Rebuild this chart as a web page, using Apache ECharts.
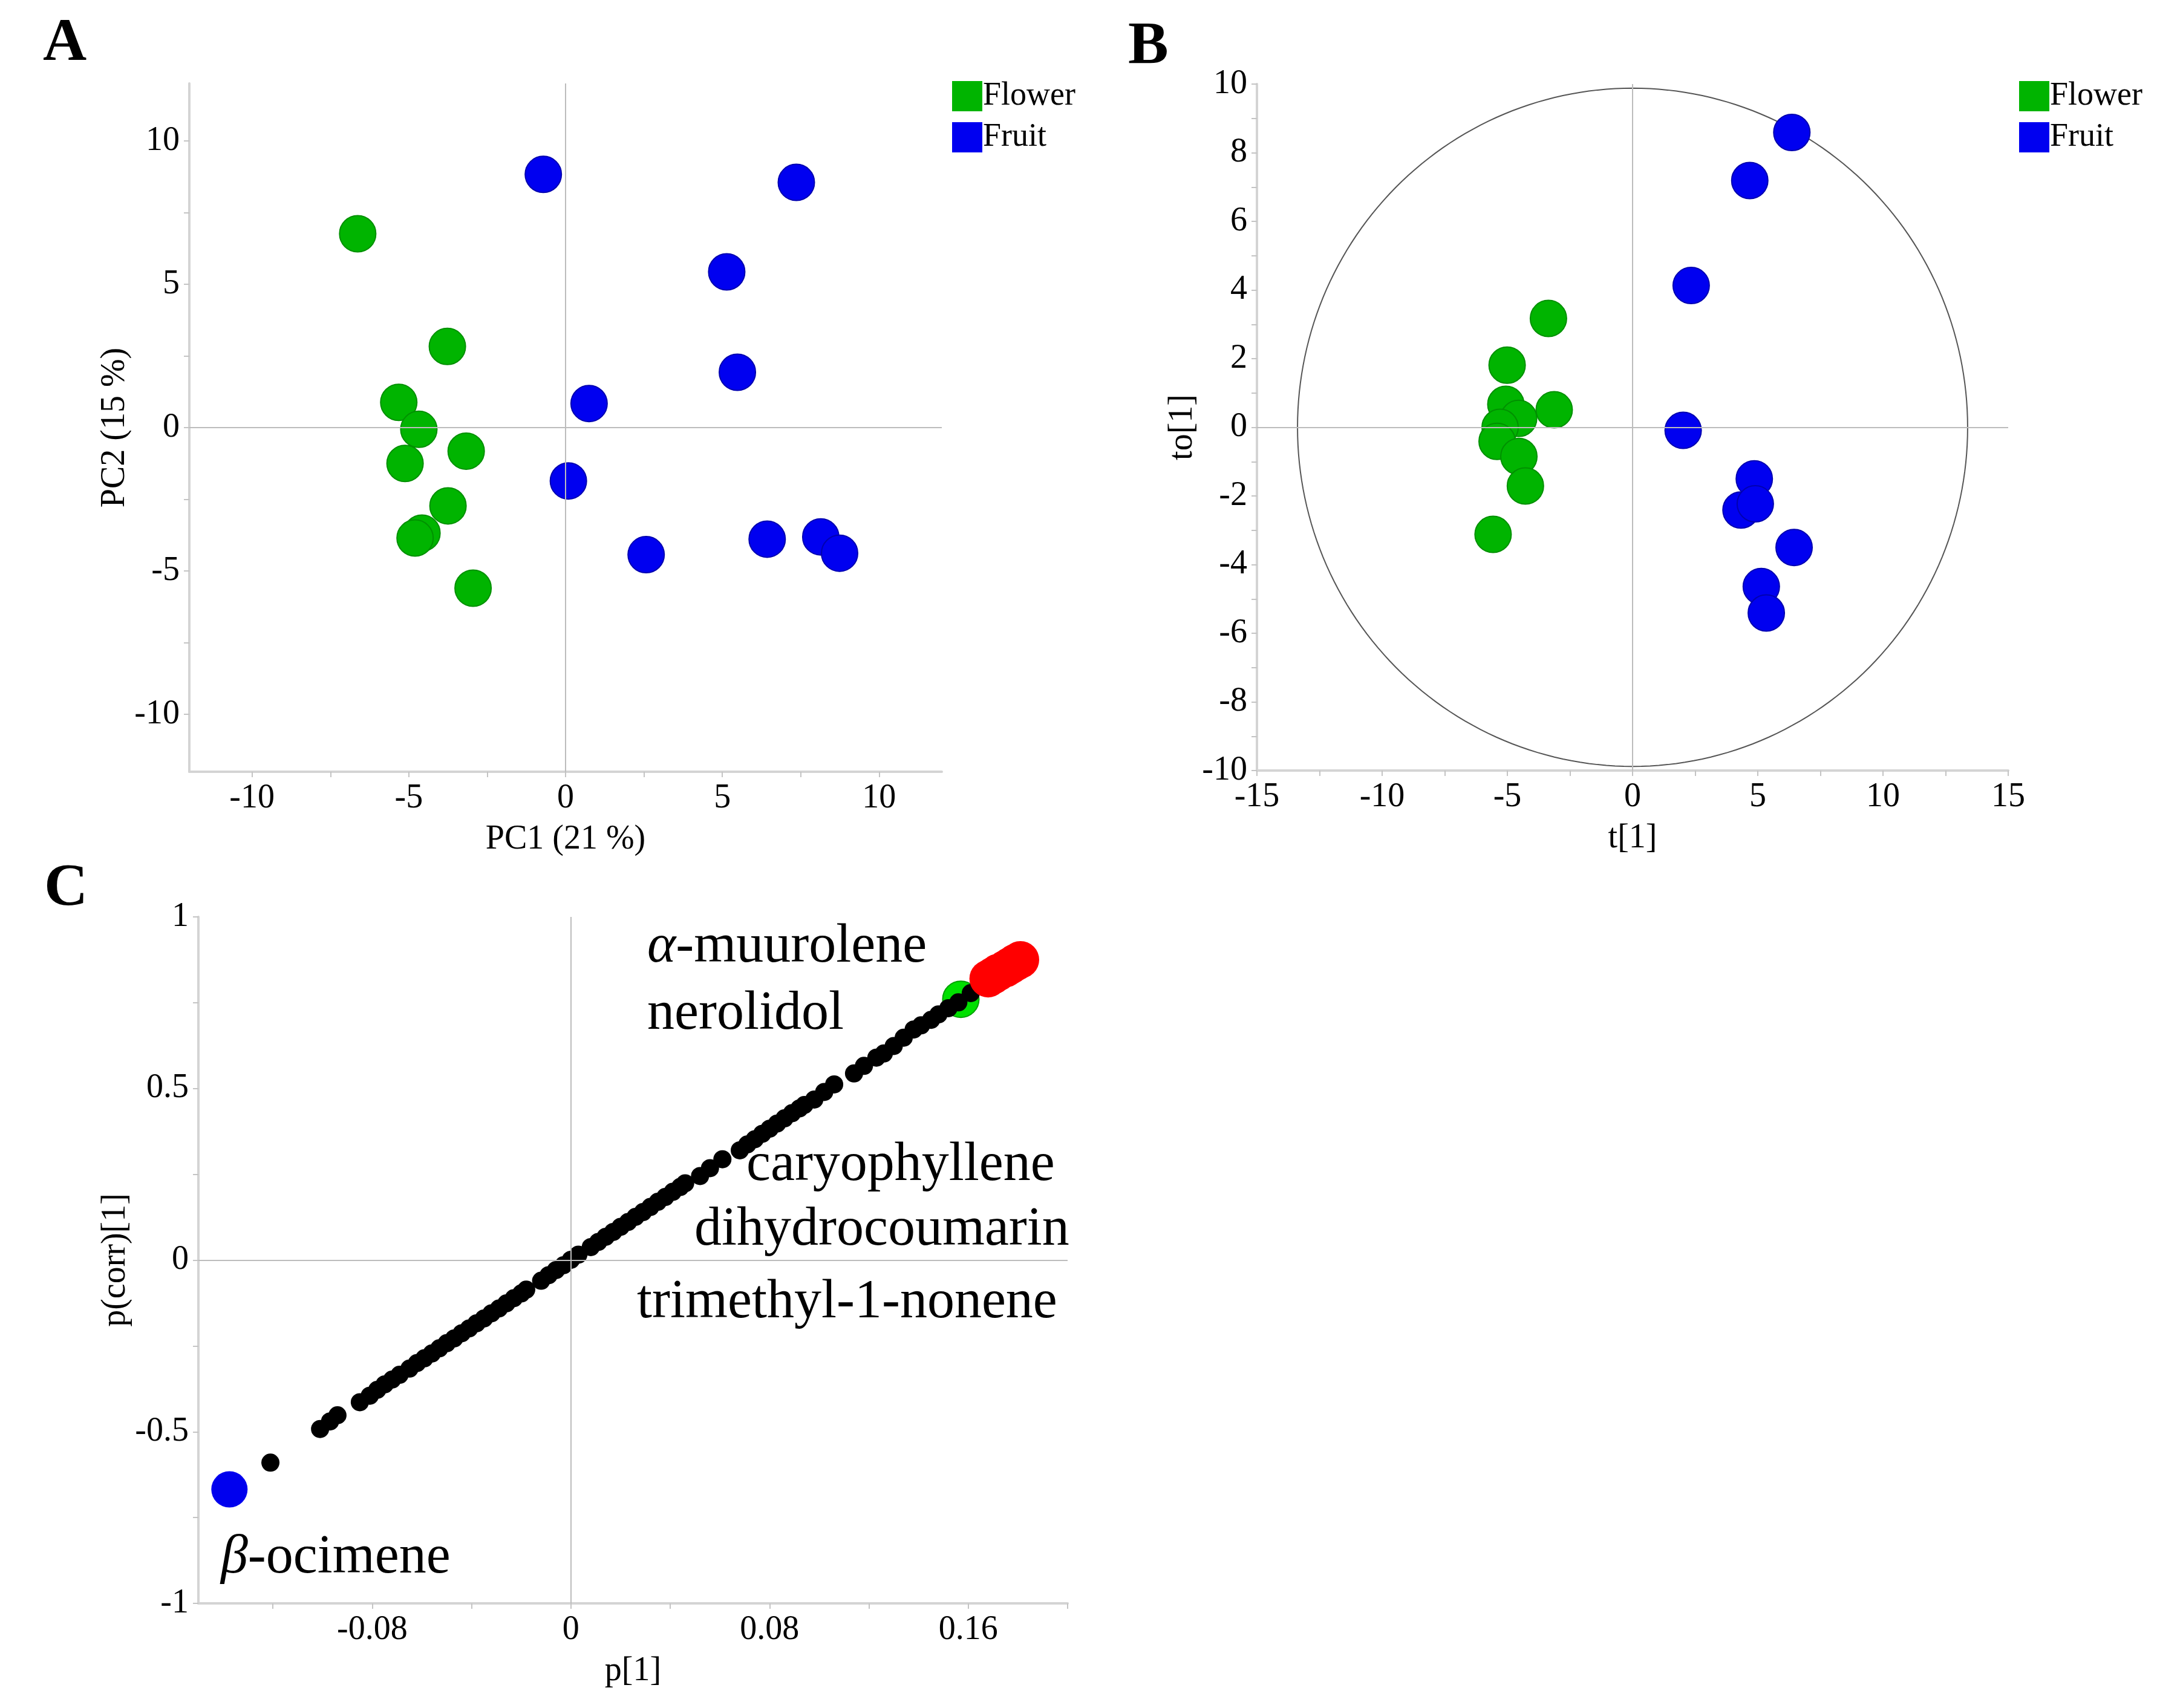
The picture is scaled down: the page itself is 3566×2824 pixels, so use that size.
<!DOCTYPE html>
<html>
<head>
<meta charset="utf-8">
<script src="https://cdn.jsdelivr.net/npm/echarts@6/dist/echarts.min.js"></script>
<style>
	html, body { margin: 0; padding: 0; background: #fff; }
	#main { width: 3566px; height: 2824px; }
</style>
</head>
<body>
<div id="main"></div>
<script>
// A: PCA scores
var flowerA = [[-6.63,6.76],[-3.77,2.83],[-5.32,0.88],[-4.68,-0.06],[-3.17,-0.82],[-5.12,-1.25],[-3.75,-2.73],[-4.58,-3.68],[-4.80,-3.85],[-2.95,-5.60]];
var fruitA = [[-0.71,8.83],[7.36,8.55],[5.14,5.43],[5.48,1.93],[0.75,0.84],[0.09,-1.86],[2.57,-4.43],[6.43,-3.89],[8.14,-3.81],[8.74,-4.38]];

// B: OPLS-DA scores + ellipse semi axes
var flowerB = [[-3.36,3.17],[-5.01,1.81],[-3.13,0.51],[-5.06,0.67],[-4.55,0.26],[-5.29,0.00],[-5.41,-0.41],[-4.54,-0.85],[-4.28,-1.71],[-5.57,-3.12]];
var fruitB = [[6.36,8.59],[4.68,7.19],[2.34,4.13],[2.02,-0.09],[4.86,-1.50],[4.33,-2.41],[4.90,-2.23],[6.45,-3.50],[5.14,-4.64],[5.34,-5.41]];
var ellipseB = [13.38, 9.88];

// C: S-plot
var blackC = [
	[-0.121,-0.590],
	[-0.101,-0.492],[-0.097,-0.470],[-0.094,-0.452],
	[-0.085,-0.414],[-0.081,-0.395],[-0.078,-0.378],[-0.075,-0.362],[-0.072,-0.348],[-0.069,-0.334],
	[-0.065,-0.316],[-0.062,-0.300],[-0.059,-0.286],[-0.056,-0.272],[-0.053,-0.257],[-0.050,-0.242],
	[-0.047,-0.228],[-0.044,-0.213],[-0.041,-0.199],[-0.038,-0.184],[-0.035,-0.170],[-0.032,-0.155],
	[-0.029,-0.141],[-0.026,-0.126],[-0.023,-0.111],[-0.020,-0.097],[-0.018,-0.086],
	[-0.012,-0.060],[-0.009,-0.044],[-0.006,-0.029],[-0.003,-0.015],[0.000,0.001],[0.003,0.016],
	[0.008,0.038],[0.011,0.053],[0.014,0.068],[0.017,0.082],[0.020,0.097],[0.023,0.111],[0.026,0.126],
	[0.029,0.140],[0.032,0.155],[0.035,0.170],[0.038,0.184],[0.041,0.199],[0.044,0.213],[0.046,0.224],
	[0.052,0.245],[0.056,0.268],[0.061,0.294],
	[0.068,0.320],[0.071,0.337],[0.074,0.352],[0.077,0.368],[0.080,0.383],[0.083,0.398],[0.086,0.413],
	[0.089,0.428],[0.092,0.442],[0.094,0.452],
	[0.098,0.468],[0.102,0.490],[0.106,0.512],
	[0.114,0.544],[0.118,0.566],[0.123,0.590],
	[0.126,0.602],[0.130,0.624],[0.134,0.648],[0.138,0.672],[0.141,0.684],
	[0.145,0.700],[0.148,0.716],[0.152,0.734],[0.156,0.751],[0.161,0.778]
];
var greenC = [[0.157,0.760]];
var redC = [[0.168,0.820],[0.170,0.829],[0.172,0.838],[0.175,0.849],[0.177,0.858],[0.179,0.867],[0.181,0.875]];
var blueC = [[-0.1375,-0.668]];

// ticks and labels
var ticksA = [-10,-7.5,-5,-2.5,0,2.5,5,7.5,10];
var labelsA = [-10,-5,0,5,10];
var ticksBx = [-15,-12.5,-10,-7.5,-5,-2.5,0,2.5,5,7.5,10,12.5,15];
var labelsBx = [-15,-10,-5,0,5,10,15];
var ticksBy = [-10,-9,-8,-7,-6,-5,-4,-3,-2,-1,0,1,2,3,4,5,6,7,8,9,10];
var labelsBy = [-10,-8,-6,-4,-2,0,2,4,6,8,10];
var ticksCx = [-0.12,-0.08,-0.04,0,0.04,0.08,0.12,0.16,0.2];
var labelsCx = [-0.08,0,0.08,0.16];
var ticksCy = [-1,-0.75,-0.5,-0.25,0,0.25,0.5,0.75,1];
var labelsCy = [-1,-0.5,0,0.5,1];

var FONT = '"Liberation Serif", serif';
var GREEN = '#00b400', GREEN_B = '#009000';
var BLUE = '#0000f0', BLUE_B = '#0000b0';

function axis(grid, min, max, labels, ticks, name, gap){
	return {
		type: 'value',
		gridIndex: grid,
		min: min,
		max: max,
		name: name,
		nameLocation: 'middle',
		nameGap: gap,
		nameTextStyle: {fontFamily: FONT, fontSize: 56, color: '#000'},
		axisLine: {show: true, onZero: false, lineStyle: {color: '#d4d4d4', width: 4}},
		axisTick: {show: true, length: 9, customValues: ticks, lineStyle: {color: '#c4c4c4', width: 2}},
		axisLabel: {customValues: labels, fontFamily: FONT, fontSize: 56, color: '#000', margin: 16},
		splitLine: {show: false}
	};
}

function zeroLines(xi, yi){
	return {
		type: 'scatter', xAxisIndex: xi, yAxisIndex: yi, data: [], z: 1, silent: true,
		markLine: {
			silent: true, symbol: ['none','none'], label: {show: false}, animation: false,
			lineStyle: {color: '#bcbcbc', width: 2, type: 'solid'},
			data: [{xAxis: 0}, {yAxis: 0}]
		}
	};
}

function dots(name, xi, data, size, color, border, z){
	return {
		name: name, type: 'scatter', xAxisIndex: xi, yAxisIndex: xi, data: data, z: z,
		symbol: 'circle', symbolSize: size,
		itemStyle: {color: color, borderColor: border, borderWidth: border ? 2 : 0, opacity: 1}
	};
}

function txt(x, y, text, size, bold){
	return {
		type: 'text', x: x, y: y, silent: true,
		style: {
			text: text, fill: '#000',
			font: (bold ? 'bold ' : '') + size + 'px ' + FONT,
			align: 'left', verticalAlign: 'middle', textAlign: 'left', textVerticalAlign: 'middle',
			rich: {i: {fontStyle: 'italic', fontSize: size, fontFamily: FONT}, n: {fontSize: size, fontFamily: FONT}}
		}
	};
}

var chart = echarts.init(document.getElementById('main'));
var option = {
	backgroundColor: '#fff',
	animation: false,
	textStyle: {fontFamily: FONT},
	grid: [
		{left: 313, top: 138, width: 1244, height: 1138},
		{left: 2078, top: 139, width: 1242, height: 1135},
		{left: 328, top: 1516, width: 1437, height: 1135}
	],
	xAxis: [
		axis(0, -12, 12, labelsA, ticksA, 'PC1 (21 %)', 84),
		axis(1, -15, 15, labelsBx, ticksBx, 't[1]', 84),
		axis(2, -0.15, 0.2, labelsCx, ticksCx, 'p[1]', 84)
	],
	yAxis: [
		axis(0, -12, 12, labelsA, ticksA, 'PC2 (15 %)', 88),
		axis(1, -10, 10, labelsBy, ticksBy, 'to[1]', 93),
		axis(2, -1, 1, labelsCy, ticksCy, 'p(corr)[1]', 104)
	],
	legend: [
		{data: ['Flower','Fruit'], orient: 'vertical', left: 1574, top: 132, padding: 0,
		 icon: 'rect', itemWidth: 50, itemHeight: 50, itemGap: 14, selectedMode: false,
		 itemStyle: {borderWidth: 0},
		 textStyle: {fontFamily: FONT, fontSize: 54, color: '#000', padding: [0,0,0,-4]}},
		{data: ['Flower','Fruit'], orient: 'vertical', left: 3338, top: 132, padding: 0,
		 icon: 'rect', itemWidth: 50, itemHeight: 50, itemGap: 14, selectedMode: false,
		 itemStyle: {borderWidth: 0},
		 textStyle: {fontFamily: FONT, fontSize: 54, color: '#000', padding: [0,0,0,-4]}}
	],
	series: [
		zeroLines(0, 0),
		zeroLines(1, 1),
		zeroLines(2, 2),
		dots('Flower', 0, flowerA, 60, GREEN, GREEN_B, 3),
		dots('Fruit', 0, fruitA, 60, BLUE, BLUE_B, 3),
		{
			type: 'custom', xAxisIndex: 1, yAxisIndex: 1, data: [[0,0]], z: 2, silent: true,
			renderItem: function(params, api){
				var pts = [];
				for (var k = 0; k <= 240; k++){
					var a = k / 240 * 2 * Math.PI;
					pts.push(api.coord([ellipseB[0] * Math.cos(a), ellipseB[1] * Math.sin(a)]));
				}
				return {type: 'polyline', shape: {points: pts}, style: {fill: null, stroke: '#555', lineWidth: 2}};
			}
		},
		dots('Flower', 1, flowerB, 60, GREEN, GREEN_B, 3),
		dots('Fruit', 1, fruitB, 60, BLUE, BLUE_B, 3),
		dots('nerolidol', 2, greenC, 60, '#00e000', '#00a000', 3),
		dots('S', 2, blackC, 30, '#000', null, 4),
		dots('muurolene', 2, redC, 62, '#ff0000', null, 4),
		dots('ocimene', 2, blueC, 60, '#0000ee', null, 4)
	],
	graphic: [
		txt(71, 73, 'A', 100, true),
		txt(1865, 78, 'B', 100, true),
		txt(73, 1470, 'C', 100, true),
		txt(1070, 1566, '{i|\u03b1}{n|-muurolene}', 90, false),
		txt(1070, 1677, '{n|nerolidol}', 90, false),
		txt(1234, 1927, '{n|caryophyllene}', 90, false),
		txt(1148, 2034, '{n|dihydrocoumarin}', 90, false),
		txt(1053, 2154, '{n|trimethyl-1-nonene}', 90, false),
		txt(365, 2576, '{i|\u03b2}{n|-ocimene}', 90, false)
	]
};
chart.setOption(option);
</script>
</body>
</html>
